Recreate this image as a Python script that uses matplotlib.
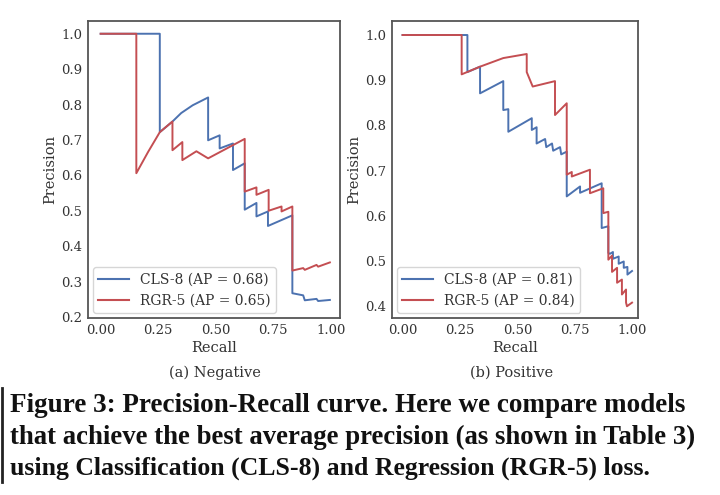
import numpy as np
import matplotlib
matplotlib.use("Agg")
import matplotlib.pyplot as plt
from matplotlib.lines import Line2D

# ---- data (recall, precision) ----
neg_cls_recall = [0.0, 0.257, 0.257, 0.312, 0.35, 0.40, 0.467, 0.467, 0.517, 0.517,
                  0.575, 0.575, 0.626, 0.626, 0.677, 0.677, 0.727, 0.727, 0.833, 0.833,
                  0.880, 0.887, 0.938, 0.945, 0.996]
neg_cls_prec = [1.0, 1.0, 0.722, 0.752, 0.776, 0.798, 0.820, 0.699, 0.713, 0.676,
                0.690, 0.615, 0.634, 0.503, 0.522, 0.484, 0.498, 0.457, 0.487, 0.267,
                0.261, 0.247, 0.251, 0.245, 0.248]
neg_rgr_recall = [0.0, 0.155, 0.155, 0.206, 0.257, 0.312, 0.312, 0.355, 0.355, 0.416,
                  0.467, 0.626, 0.626, 0.677, 0.677, 0.730, 0.730, 0.786, 0.786, 0.833,
                  0.833, 0.880, 0.887, 0.938, 0.945, 0.996]
neg_rgr_prec = [1.0, 1.0, 0.606, 0.666, 0.722, 0.752, 0.671, 0.694, 0.643, 0.668,
                0.648, 0.703, 0.554, 0.566, 0.545, 0.559, 0.500, 0.512, 0.498, 0.512,
                0.331, 0.338, 0.333, 0.347, 0.342, 0.354]

pos_cls_recall = [0.0, 0.282, 0.282, 0.337, 0.337, 0.438, 0.438, 0.460, 0.460, 0.562,
                  0.562, 0.583, 0.583, 0.620, 0.625, 0.650, 0.655, 0.685, 0.690, 0.714,
                  0.714, 0.772, 0.772, 0.866, 0.866, 0.895, 0.895, 0.902, 0.915, 0.915,
                  0.940, 0.940, 0.962, 0.962, 0.978, 0.978, 0.998]
pos_cls_prec = [1.0, 1.0, 0.918, 0.930, 0.871, 0.898, 0.834, 0.836, 0.786, 0.816,
                0.790, 0.796, 0.760, 0.770, 0.752, 0.760, 0.744, 0.752, 0.736, 0.742,
                0.643, 0.665, 0.651, 0.672, 0.573, 0.577, 0.518, 0.516, 0.520, 0.505,
                0.510, 0.494, 0.499, 0.485, 0.487, 0.470, 0.478]
pos_rgr_recall = [0.0, 0.257, 0.257, 0.337, 0.438, 0.540, 0.540, 0.566, 0.663, 0.663,
                  0.714, 0.714, 0.736, 0.736, 0.815, 0.815, 0.873, 0.873, 0.895, 0.895,
                  0.911, 0.911, 0.933, 0.933, 0.954, 0.954, 0.972, 0.972, 0.976, 0.998]
pos_rgr_prec = [1.0, 1.0, 0.913, 0.930, 0.949, 0.958, 0.918, 0.886, 0.898, 0.823,
                0.849, 0.691, 0.697, 0.687, 0.702, 0.650, 0.661, 0.606, 0.609, 0.503,
                0.512, 0.476, 0.485, 0.452, 0.459, 0.426, 0.437, 0.408, 0.400, 0.408]

neg_labels = ["CLS-8 (AP = 0.68)", "RGR-5 (AP = 0.65)"]
pos_labels = ["CLS-8 (AP = 0.81)", "RGR-5 (AP = 0.84)"]
neg_ticks = [0.2, 0.3, 0.4, 0.5, 0.6, 0.7, 0.8, 0.9, 1.0]
pos_ticks = [0.4, 0.5, 0.6, 0.7, 0.8, 0.9, 1.0]
x_ticks = [0.0, 0.25, 0.5, 0.75, 1.0]
caption = ["Figure 3: Precision-Recall curve. Here we compare models",
           "that achieve the best average precision (as shown in Table 3)",
           "using Classification (CLS-8) and Regression (RGR-5) loss."]
caption_px = [677, 687, 640]   # line widths in the reference, pixels

BLUE, RED = "#4C72B0", "#C44E52"
TXT = "#333333"
plt.rcParams["font.family"] = ["DejaVu Serif"]

fig = plt.figure(figsize=(7.2, 4.95), dpi=100)
axL = fig.add_axes([88 / 720, 177 / 495, 252 / 720, 297 / 495])
axR = fig.add_axes([392 / 720, 177 / 495, 246 / 720, 297 / 495])


def style(ax, yt, ylim, xlim, labels):
    ax.set_xlim(*xlim); ax.set_ylim(*ylim)
    ax.set_xticks(x_ticks); ax.set_xticklabels([f"{v:.2f}" for v in x_ticks])
    ax.set_yticks(yt); ax.set_yticklabels([f"{v:.1f}" for v in yt])
    ax.tick_params(length=0, labelsize=9.5, colors=TXT, pad=4)
    for s in ax.spines.values():
        s.set_color("#555555"); s.set_linewidth(1.3)
    ax.set_xlabel("Recall", fontsize=10.5, color=TXT, labelpad=3)
    ax.set_ylabel("Precision", fontsize=10.5, color=TXT, labelpad=3)
    handles = [Line2D([], [], color=BLUE, lw=1.5), Line2D([], [], color=RED, lw=1.5)]
    ax.legend(handles, labels, loc="lower left", fontsize=10, frameon=True,
              edgecolor="#cccccc", fancybox=True, borderaxespad=0.35,
              handlelength=2.2, labelcolor=TXT)


axL.plot(neg_cls_recall, neg_cls_prec, color=BLUE, lw=1.4)
axL.plot(neg_rgr_recall, neg_rgr_prec, color=RED, lw=1.4)
style(axL, neg_ticks, (0.197, 1.036), (-0.055, 1.04), neg_labels)

axR.plot(pos_cls_recall, pos_cls_prec, color=BLUE, lw=1.4)
axR.plot(pos_rgr_recall, pos_rgr_prec, color=RED, lw=1.4)
style(axR, pos_ticks, (0.374, 1.031), (-0.046, 1.024), pos_labels)

fig.text(215 / 720, 1 - 373 / 495, "(a) Negative", ha="center", va="center",
         fontsize=10.5, color=TXT)
fig.text(512 / 720, 1 - 373 / 495, "(b) Positive", ha="center", va="center",
         fontsize=10.5, color=TXT)

# caption, bold serif, each line fitted to the reference line width
fig.canvas.draw()
r = fig.canvas.get_renderer()
ys = [406, 437, 468]
for line, y, px in zip(caption, ys, caption_px):
    t = fig.text(10 / 720, 1 - y / 495, line, fontsize=17, fontweight="bold",
                 family="Liberation Serif", va="center", ha="left", color="#111111")
    t.set_fontsize(17 * px / t.get_window_extent(r).width)

fig.add_artist(Line2D([1.5 / 720, 1.5 / 720], [1 - 388 / 495, 1 - 482 / 495],
                      transform=fig.transFigure, color="#222222", lw=2))

fig.savefig("out.png", dpi=100)
